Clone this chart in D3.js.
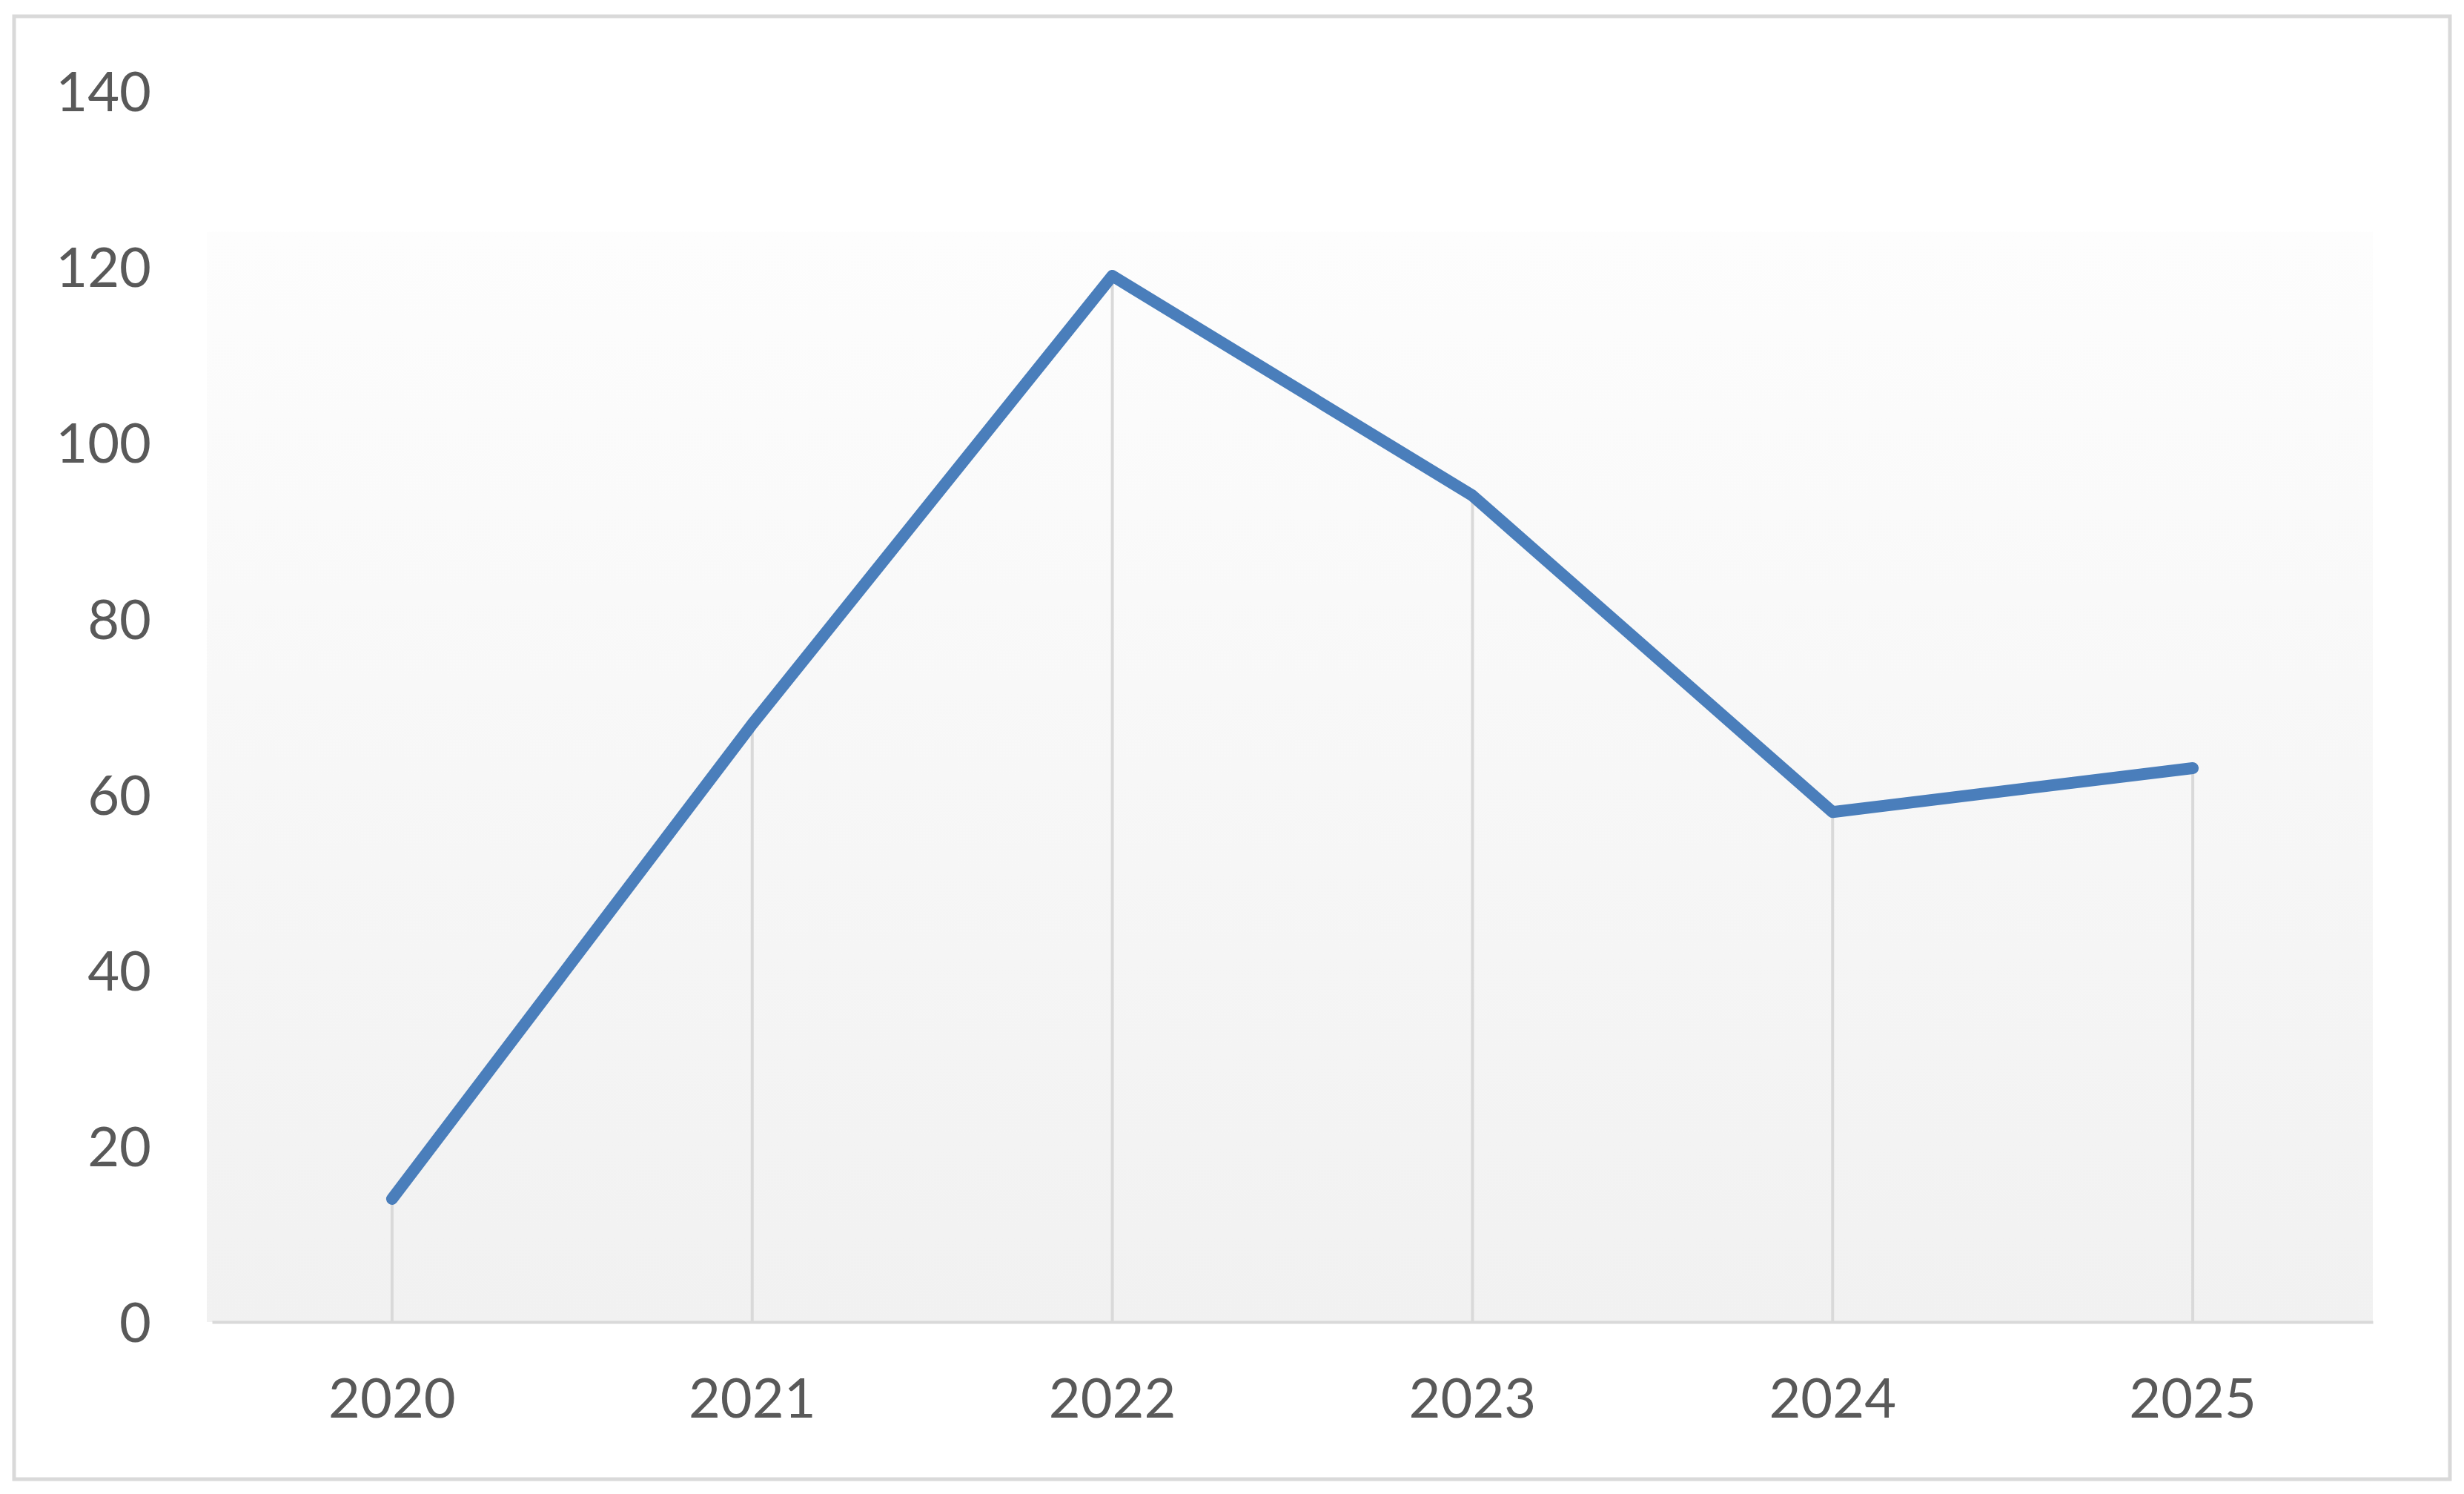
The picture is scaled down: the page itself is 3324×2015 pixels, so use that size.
<!DOCTYPE html>
<meta charset="utf-8">
<style>
body { margin: 0; background: #fff; }
.tick text { font-family: Lato, "Open Sans", sans-serif; font-size: 74px; fill: #595959; }
</style>
<body>
<svg id="chart"></svg>
<script src="https://d3js.org/d3.v7.min.js"></script>
<script>
  // data
  var years  = ['2020', '2021', '2022', '2023', '2024', '2025'];
  var values = [14, 68, 119, 94, 58, 63];
  var yTicks = [0, 20, 40, 60, 80, 100, 120, 140];

  var W = 3324, H = 2015;
  var margin = {top: 123, right: 123, bottom: 232, left: 286},
      width  = W - margin.left - margin.right,
      height = H - margin.top - margin.bottom;

  var svg = d3.select('#chart')
      .attr('width', W)
      .attr('height', H);

  // outer frame
  svg.append('rect')
    .attr('x', 19).attr('y', 22)
    .attr('width', W - 38).attr('height', H - 42)
    .attr('fill', '#fff')
    .attr('stroke', '#d9d9d9')
    .attr('stroke-width', 5);

  var grad = svg.append('defs').append('linearGradient')
      .attr('id', 'plotbg')
      .attr('x1', 0).attr('y1', 0).attr('x2', 0).attr('y2', 1);
  grad.append('stop').attr('offset', '0%').attr('stop-color', '#fdfdfd');
  grad.append('stop').attr('offset', '100%').attr('stop-color', '#f1f1f1');

  var g = svg.append('g')
      .attr('transform', 'translate(' + margin.left + ',' + margin.top + ')');

  var xScale = d3.scaleBand()
      .domain(years)
      .range([0, width]);

  var yScale = d3.scaleLinear()
      .domain([0, 140])
      .range([height, 0]);

  // plot area background (starts a bit under the top tick)
  g.append('rect')
    .attr('x', -7)
    .attr('y', yScale(124))
    .attr('width', width + 7)
    .attr('height', height - yScale(124))
    .attr('fill', 'url(#plotbg)');

  var data = years.map(function(y, i) { return {year: y, value: values[i]}; });
  var cx = function(d) { return xScale(d.year) + xScale.bandwidth() / 2; };

  // drop lines
  g.selectAll('.dropline')
    .data(data)
    .enter().append('line')
      .attr('class', 'dropline')
      .attr('x1', cx)
      .attr('x2', cx)
      .attr('y1', function(d) { return yScale(d.value); })
      .attr('y2', height)
      .attr('stroke', '#d9d9d9')
      .attr('stroke-width', 4);

  // x axis
  var xAxis = g.append('g')
      .attr('transform', 'translate(0,' + height + ')')
      .call(d3.axisBottom(xScale).tickSize(0).tickPadding(76));
  xAxis.select('.domain').attr('stroke', '#d9d9d9').attr('stroke-width', 4);

  // y axis, labels only
  var yAxis = g.append('g')
      .call(d3.axisLeft(yScale).tickValues(yTicks).tickSize(0).tickPadding(82));
  yAxis.select('.domain').remove();
  yAxis.selectAll('.tick text').attr('dy', '0.36em');

  var line = d3.line()
      .x(cx)
      .y(function(d) { return yScale(d.value); });

  g.append('path')
    .datum(data)
    .attr('d', line)
    .attr('fill', 'none')
    .attr('stroke', '#4a7ebb')
    .attr('stroke-width', 16)
    .attr('stroke-linejoin', 'round')
    .attr('stroke-linecap', 'round');
</script>
</body>
